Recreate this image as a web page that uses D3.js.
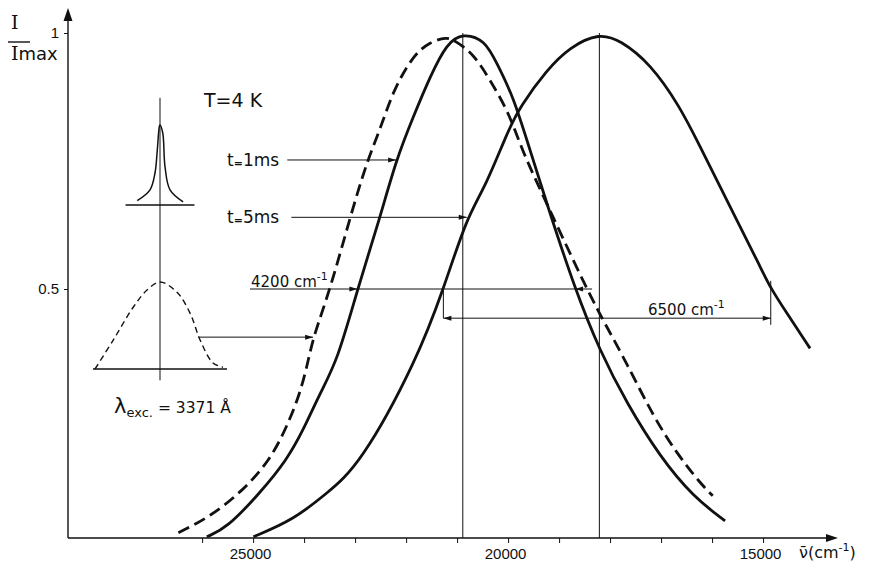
<!DOCTYPE html>
<html>
<head>
<meta charset="utf-8">
<script src="https://cdnjs.cloudflare.com/ajax/libs/d3/7.8.5/d3.min.js"></script>
<style>
  body { margin: 0; background: #fff; }
  svg { font-family: "DejaVu Sans", "Liberation Sans", sans-serif; }
  .tick text { font-size: 15px; fill: #111; font-family: "Liberation Sans", sans-serif; }
  .tick line { stroke: #111; }
</style>
</head>
<body>
<div id="chart"></div>
<script>
// spectra: [wavenumber in cm-1, I/Imax]
const broadExcitation = [
    [26465, 0.024], [25843, 0.055], [25190, 0.107], [24667, 0.166], [24339, 0.231],
    [24078, 0.296], [23916, 0.361], [23818, 0.407], [23490, 0.499], [23098, 0.640],
    [22759, 0.752], [22510, 0.811], [22249, 0.889], [21857, 0.957], [21529, 0.983],
    [21202, 0.992], [21059, 0.986], [20680, 0.960], [20353, 0.908], [19975, 0.843],
    [19731, 0.771], [19241, 0.667], [18457, 0.499], [18033, 0.420], [17673, 0.355],
    [17151, 0.251], [16692, 0.179], [16235, 0.121], [15986, 0.096]
];
const decay1ms = [
    [25908, 0.016], [25516, 0.033], [24863, 0.102], [24339, 0.166], [24014, 0.225],
    [23686, 0.297], [23343, 0.361], [22955, 0.499], [22510, 0.640], [22196, 0.752],
    [21857, 0.837], [21529, 0.915], [21202, 0.980], [20888, 1.000], [20451, 0.986],
    [20222, 0.941], [19896, 0.876], [19569, 0.771], [19241, 0.667], [18686, 0.499],
    [18196, 0.378], [17673, 0.277], [17020, 0.172], [16367, 0.094], [15745, 0.047]
];
const decay5ms = [
    [24994, 0.016], [24210, 0.049], [23555, 0.101], [22902, 0.156], [21790, 0.361],
    [21269, 0.499], [20810, 0.640], [20451, 0.698], [19994, 0.811], [19765, 0.856],
    [19241, 0.928], [18784, 0.973], [18210, 1.000], [17804, 0.986], [17216, 0.941],
    [16627, 0.856], [16235, 0.778], [15843, 0.700], [15451, 0.622], [15059, 0.544],
    [14849, 0.501], [14535, 0.453], [14078, 0.384]
];

// inset line shapes: [offset from centre (-1..1), relative height]
const narrowLine = [
    [-0.66, 0.054], [-0.29, 0.19], [-0.145, 0.40], [-0.078, 0.69], [-0.02, 0.98],
    [0, 1], [0.08, 0.90], [0.145, 0.48], [0.29, 0.19], [0.67, 0.04]
];
const broadLine = [
    [-0.97, 0], [-0.70, 0.33], [-0.40, 0.71], [-0.19, 0.91], [0, 1], [0.25, 0.885],
    [0.45, 0.64], [0.60, 0.33], [0.79, 0.07], [0.94, 0.02]
];

const xTicks = d3.range(15000, 26001, 1000);
const xLabels = [25000, 20000, 15000];
const yTicks = [0.5, 1];
const peaks = [[20888, 1.0], [18210, 1.0]];

// widths and markers, in data units
const halfWidth1ms = [22955, 18686];   // 4200 cm-1
const halfWidth5ms = [21269, 14849];   // 6500 cm-1
const label1ms = { level: 0.752, from: 24330, to: 22196 };
const label5ms = { level: 0.640, from: 24250, to: 20810 };
const insetPointer = { level: 0.406, to: 23823 };

const width = 870, height = 569;

const svg = d3.select("#chart")
    .append("svg")
    .attr("width", width)
    .attr("height", height);

const x = d3.scaleLinear().domain([28630, 13550]).range([68, 837]);
const y = d3.scaleLinear().domain([0, 1]).range([545, 33]);
const baseY = 538;
const ink = "#111";

function arrowHead(tx, ty, dir) {
    // small filled triangle, tip at (tx, ty), dir = +1 points right, -1 left
    svg.append("path")
        .attr("d", `M${tx},${ty} L${tx - dir * 8},${ty - 2.5} L${tx - dir * 8},${ty + 2.5} Z`)
        .attr("fill", ink);
}

function hline(x1, x2, yy) {
    svg.append("line")
        .attr("x1", x1).attr("x2", x2).attr("y1", yy).attr("y2", yy)
        .attr("stroke", ink).attr("stroke-width", 1);
}

// axes
const xAxis = svg.append("g")
    .attr("transform", `translate(0,${baseY})`)
    .call(d3.axisBottom(x).tickValues(xTicks).tickSize(5).tickPadding(5)
        .tickFormat(d => xLabels.includes(d) ? d : ""));
xAxis.select(".domain").remove();
xAxis.selectAll(".tick text").attr("dx", -3);

const yAxis = svg.append("g")
    .attr("transform", "translate(68,0)")
    .call(d3.axisLeft(y).tickValues(yTicks).tickSize(4).tickPadding(5)
        .tickFormat(d => d === 1 ? "1" : "0.5"));
yAxis.select(".domain").remove();

svg.append("line").attr("x1", 68).attr("x2", 828).attr("y1", baseY).attr("y2", baseY)
    .attr("stroke", ink).attr("stroke-width", 1.4);
svg.append("path").attr("d", `M838,${baseY} L826,${baseY - 4} L826,${baseY + 4} Z`).attr("fill", ink);
svg.append("line").attr("x1", 68).attr("x2", 68).attr("y1", baseY).attr("y2", 18)
    .attr("stroke", ink).attr("stroke-width", 1.4);
svg.append("path").attr("d", "M68,8 L63.5,21 L72.5,21 Z").attr("fill", ink);

// axis titles
const yTitle = svg.append("g").attr("fill", ink);
yTitle.append("text").attr("x", 11).attr("y", 29).attr("font-size", 19)
    .attr("font-family", "DejaVu Serif, serif").text("I");
yTitle.append("line").attr("x1", 8).attr("x2", 30).attr("y1", 42).attr("y2", 42)
    .attr("stroke", ink).attr("stroke-width", 1.4);
const imax = yTitle.append("text").attr("x", 11).attr("y", 60).attr("font-size", 18);
imax.append("tspan").attr("font-family", "DejaVu Serif, serif").attr("font-size", 19).text("I");
imax.append("tspan").text("max");

const xTitle = svg.append("text").attr("x", 799).attr("y", 558).attr("font-size", 16).attr("fill", ink);
xTitle.append("tspan").text("\u03BD\u0304(cm");
xTitle.append("tspan").attr("font-size", 11).attr("dy", -7).text("-1");
xTitle.append("tspan").attr("dy", 7).text(")");

// peak verticals
peaks.forEach(p => {
    svg.append("line")
        .attr("x1", x(p[0])).attr("x2", x(p[0]))
        .attr("y1", y(p[1])).attr("y2", baseY)
        .attr("stroke", ink).attr("stroke-width", 1);
});

// spectra
const line = d3.line()
    .x(d => x(d[0]))
    .y(d => y(d[1]))
    .curve(d3.curveBasis);

svg.append("path").datum(broadExcitation)
    .attr("d", line).attr("fill", "none").attr("stroke", ink)
    .attr("stroke-width", 2.8).attr("stroke-dasharray", "12,6");
svg.append("path").datum(decay1ms)
    .attr("d", line).attr("fill", "none").attr("stroke", ink).attr("stroke-width", 2.8);
svg.append("path").datum(decay5ms)
    .attr("d", line).attr("fill", "none").attr("stroke", ink).attr("stroke-width", 2.8);

// time labels with pointers
function timeLabel(txt, ty, p) {
    const t = svg.append("text").attr("x", 227).attr("y", ty).attr("font-size", 17).attr("fill", ink);
    t.append("tspan").text("t");
    t.append("tspan").attr("font-size", 11).attr("font-weight", "bold").attr("dy", 1).text("=");
    t.append("tspan").attr("dy", -1).text(txt);
    hline(x(p.from), x(p.to), y(p.level));
    arrowHead(x(p.to), y(p.level), 1);
}
timeLabel("1ms", 166, label1ms);
timeLabel("5ms", 223, label5ms);

// 4200 cm-1 half width
const y42 = y(0.5);
hline(250, x(halfWidth1ms[1]) + 17, y42);
arrowHead(x(halfWidth1ms[0]), y42, 1);
arrowHead(x(halfWidth1ms[1]), y42, -1);
const t42 = svg.append("text").attr("x", 251).attr("y", y42 - 2).attr("font-size", 15).attr("fill", ink);
t42.append("tspan").text("4200 cm");
t42.append("tspan").attr("font-size", 11).attr("dy", -7).text("-1");

// 6500 cm-1 half width
const y65 = y(0.443);
hline(x(halfWidth5ms[0]), x(halfWidth5ms[1]), y65);
arrowHead(x(halfWidth5ms[0]), y65, -1);
arrowHead(x(halfWidth5ms[1]), y65, 1);
svg.append("line").attr("x1", x(halfWidth5ms[0])).attr("x2", x(halfWidth5ms[0]))
    .attr("y1", y(0.5)).attr("y2", y65).attr("stroke", ink);
svg.append("line").attr("x1", x(halfWidth5ms[1])).attr("x2", x(halfWidth5ms[1]))
    .attr("y1", y(0.516)).attr("y2", y(0.43)).attr("stroke", ink);
const t65 = svg.append("text").attr("x", 648).attr("y", y65 - 3).attr("font-size", 15).attr("fill", ink);
t65.append("tspan").text("6500 cm");
t65.append("tspan").attr("font-size", 11).attr("dy", -7).text("-1");

// temperature
svg.append("text").attr("x", 204).attr("y", 107).attr("font-size", 19).attr("fill", ink).text("T=4 K");

// insets
const nx = d3.scaleLinear().domain([-1, 1]).range([125.5, 194.5]);
const ny = d3.scaleLinear().domain([0, 1]).range([205, 125]);
const bx = d3.scaleLinear().domain([-1, 1]).range([93, 227]);
const by = d3.scaleLinear().domain([0, 1]).range([369, 282]);

svg.append("line").attr("x1", nx(0)).attr("x2", nx(0)).attr("y1", ny(1.34)).attr("y2", by(-0.13))
    .attr("stroke", ink).attr("stroke-width", 1);
svg.append("line").attr("x1", nx(-1)).attr("x2", nx(1)).attr("y1", ny(0)).attr("y2", ny(0))
    .attr("stroke", ink).attr("stroke-width", 1.3);
svg.append("line").attr("x1", bx(-1)).attr("x2", bx(1)).attr("y1", by(0)).attr("y2", by(0))
    .attr("stroke", ink).attr("stroke-width", 1.3);

svg.append("path").datum(narrowLine)
    .attr("d", d3.line().x(d => nx(d[0])).y(d => ny(d[1])).curve(d3.curveCatmullRom.alpha(0.5)))
    .attr("fill", "none").attr("stroke", ink).attr("stroke-width", 1.5);
svg.append("path").datum(broadLine)
    .attr("d", d3.line().x(d => bx(d[0])).y(d => by(d[1])).curve(d3.curveCatmullRom.alpha(0.5)))
    .attr("fill", "none").attr("stroke", ink).attr("stroke-width", 1.4)
    .attr("stroke-dasharray", "6,4");

hline(bx(0.57), x(insetPointer.to), y(insetPointer.level));
arrowHead(x(insetPointer.to), y(insetPointer.level), 1);

const lam = svg.append("text").attr("x", 114).attr("y", 413).attr("fill", ink).attr("font-size", 15.5);
lam.append("tspan").attr("font-size", 21).text("\u03BB");
lam.append("tspan").attr("font-size", 13).attr("dy", 4).text("exc.");
lam.append("tspan").attr("dy", -4).text(" = 3371 \u00C5");
</script>
</body>
</html>
